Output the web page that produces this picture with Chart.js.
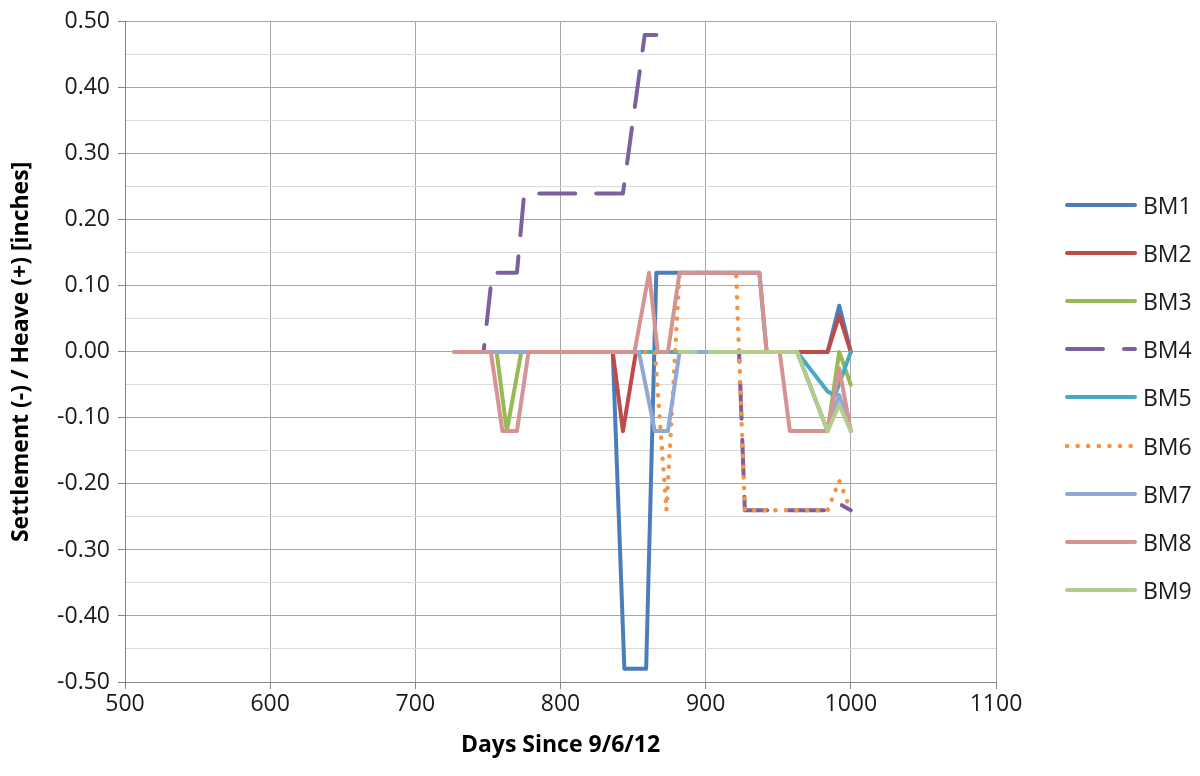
<!DOCTYPE html>
<html>
<head>
<meta charset="utf-8">
<script src="https://cdn.jsdelivr.net/npm/chart.js@4/dist/chart.umd.min.js"></script>
<style>
  html, body { margin: 0; padding: 0; background: #fff; }
  #wrap { position: relative; width: 1200px; height: 776px; }
  #chart { position: absolute; left: 0; top: 0; }
  .legend-item { position: absolute; left: 1063px; height: 30px; display: flex; align-items: center; }
  .legend-item svg { display: block; }
  .legend-label { margin-left: 6px; font: 23px 'Open Sans', sans-serif; color: #1a1a1a; }
</style>
</head>
<body>
<div id="wrap">
  <canvas id="chart" width="1200" height="776"></canvas>
  <div id="legend"></div>
</div>
<script>
// [days since 9/6/12, settlement/heave in inches]; null = gap in the record
const bm1 = [[727,0],[836,0],[844,-0.48],[859,-0.48],[866,0.12],[937,0.12],[942,0],[984,0],[992,0.07],[1000,0]];
const bm2 = [[727,0],[836,0],[843,-0.12],[852,0],[984,0],[992,0.055],[1000,0]];
const bm3 = [[727,0],[756,0],[763,-0.12],[773,0],[963,0],[984,-0.12],[992,0],[1000,-0.05]];
const bm4 = [[727,0],[747,0],[753,0.12],[770,0.12],[775,0.24],[843,0.24],[858,0.48],[866,0.48],[867,null],[905,0],[923,0],[927,-0.24],[988,-0.24],[992,-0.23],[1000,-0.24]];
const bm5 = [[727,0],[963,0],[984,-0.06],[989,-0.066],[1000,0]];
const bm6 = [[727,0],[865,0],[873,-0.24],[882,0.12],[921,0.12],[927,-0.24],[984,-0.24],[992,-0.195],[1000,-0.24]];
const bm7 = [[727,0],[854,0],[865,-0.12],[874,-0.12],[882,0],[963,0],[984,-0.12],[992,-0.065],[1000,-0.12]];
const bm8 = [[727,0],[752,0],[760,-0.12],[770,-0.12],[778,0],[851,0],[861,0.12],[867,0],[874,0],[882,0.12],[937,0.12],[942,0],[951,0],[958,-0.12],[984,-0.12],[992,-0.025],[1000,-0.12]];
const bm9 = [[882,0],[893,0],[894,null],[903,0],[963,0],[984,-0.12],[992,-0.08],[1000,-0.12]];

const seriesNames = ['BM1', 'BM2', 'BM3', 'BM4', 'BM5', 'BM6', 'BM7', 'BM8', 'BM9'];
const seriesData = [bm1, bm2, bm3, bm4, bm5, bm6, bm7, bm8, bm9];
const seriesColors = ['#4a7ebb', '#be4b48', '#98b954', '#7d60a0', '#46aac5', '#f69240', '#8ea9d5', '#d59391', '#b5cd8c'];
const seriesDash = [[], [], [], [36, 21], [], [0.1, 10.5], [], [], []];

const xTicks = { min: 500, max: 1100, step: 100 };
const yTicks = { min: -0.5, max: 0.5, step: 0.05 };

Chart.defaults.font.family = "'Open Sans', sans-serif";

const datasets = seriesNames.map((name, i) => ({
  label: name,
  data: seriesData[i].map(([x, y]) => ({ x, y })),
  borderColor: seriesColors[i],
  backgroundColor: seriesColors[i],
  borderWidth: i === 5 ? 4.5 : 4,
  borderDash: seriesDash[i],
  borderCapStyle: 'round',
  borderJoinStyle: 'round',
  pointRadius: 0,
  tension: 0,
  spanGaps: false,
  order: seriesNames.length - i, // later series drawn on top, like Excel
}));

new Chart(document.getElementById('chart').getContext('2d'), {
  type: 'line',
  data: { datasets },
  options: {
    responsive: false,
    animation: false,
    layout: { padding: { top: 18, right: 204, bottom: 0, left: 0 } },
    plugins: { legend: { display: false }, tooltip: { enabled: false } },
    scales: {
      x: {
        type: 'linear',
        min: xTicks.min, max: xTicks.max,
        ticks: { stepSize: xTicks.step, font: { size: 23 }, color: '#1a1a1a', padding: 2, callback: v => String(v) },
        grid: { color: '#a6a6a6', tickLength: 7, tickColor: '#868686' },
        border: { color: '#868686' },
        title: { display: true, text: 'Days Since 9/6/12', color: '#000', font: { size: 23, weight: 'bold' }, padding: { top: 0, bottom: 17 } },
        afterFit: s => { s.height = 94; },
      },
      y: {
        min: yTicks.min, max: yTicks.max,
        ticks: {
          stepSize: yTicks.step, autoSkip: false, font: { size: 23 }, color: '#1a1a1a', padding: 8,
          callback: (v, i) => i % 2 === 0 ? Number(v).toFixed(2) : '',
        },
        grid: {
          color: ctx => ctx.index % 2 === 0 ? '#a6a6a6' : '#d9d9d9',
          tickLength: 7,
          tickColor: ctx => ctx.index % 2 === 0 ? '#868686' : 'rgba(0,0,0,0)',
        },
        border: { color: '#868686' },
        title: { display: true, text: 'Settlement (-) / Heave (+) [inches]', color: '#000', font: { size: 23, weight: 'bold' }, padding: { top: 8, bottom: 0 } },
        afterFit: s => { s.width = 125; },
      },
    },
  },
});

// Legend
const legend = document.getElementById('legend');
legend.innerHTML = seriesNames.map((name, i) => `
  <div class="legend-item" style="top:${204.5 + 48.2 * i - 15}px">
    <svg width="74" height="10"><line x1="4" y1="5" x2="72" y2="5" stroke="${seriesColors[i]}" stroke-width="${i === 5 ? 4.5 : 4}" stroke-linecap="round" ${seriesDash[i].length ? `stroke-dasharray="${seriesDash[i].join(' ')}"` : ''}/></svg>
    <span class="legend-label">${name}</span>
  </div>`).join('');
</script>
</body>
</html>
